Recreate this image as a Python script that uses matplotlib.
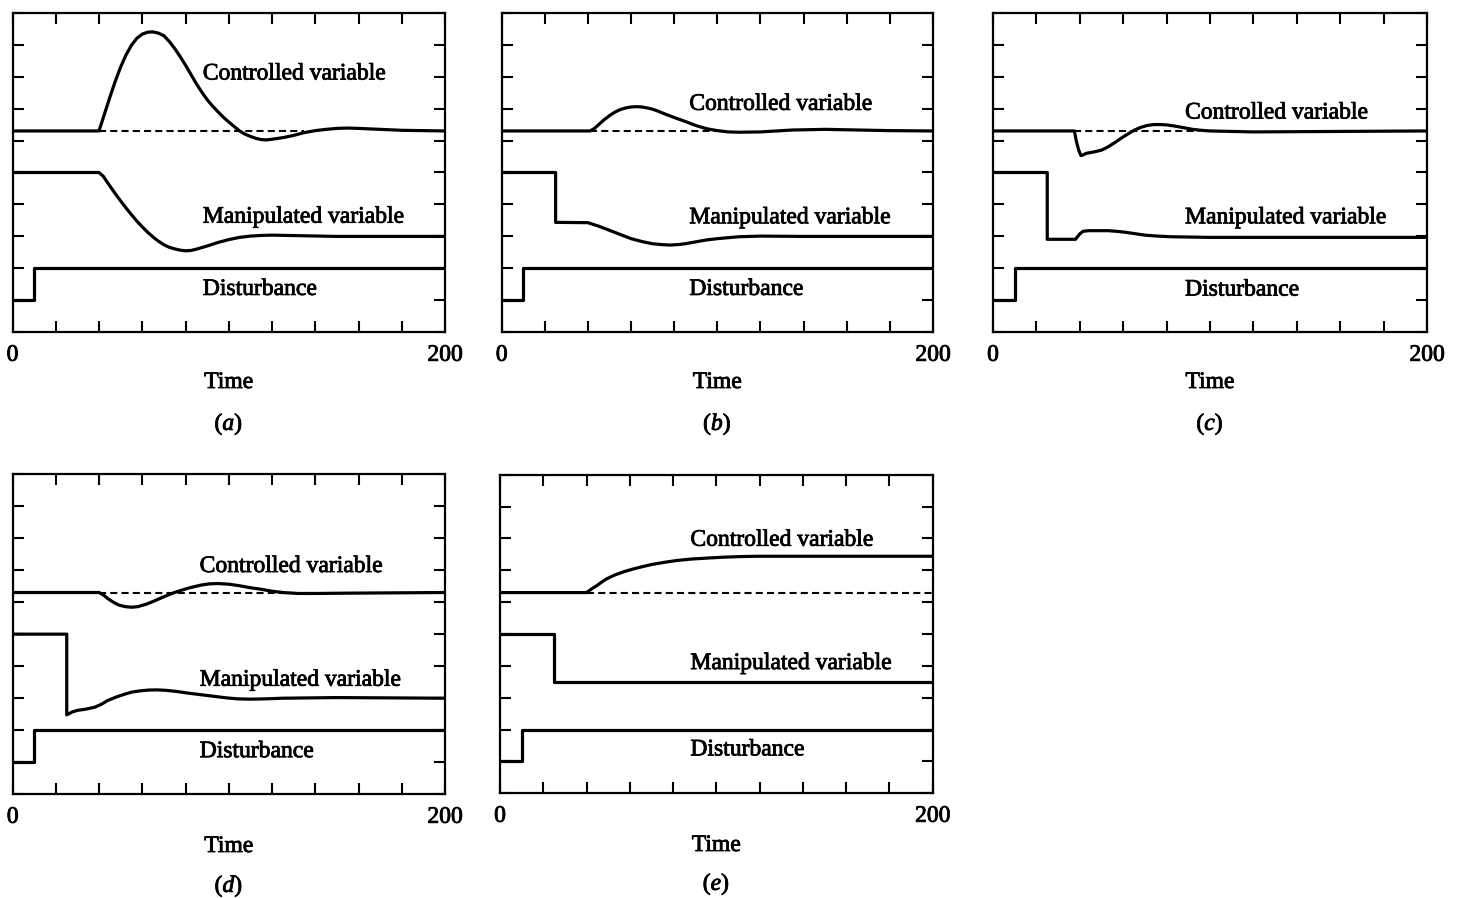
import matplotlib.pyplot as plt
import matplotlib.patheffects as pe

plt.rcParams['font.family'] = 'Liberation Serif'
plt.rcParams['mathtext.fontset'] = 'custom'
plt.rcParams['mathtext.rm'] = 'Liberation Serif'
plt.rcParams['mathtext.it'] = 'Liberation Serif:italic'

panels = ['a', 'b', 'c', 'd', 'e']
setpoint = 6.3

# disturbance: same step in every panel
dist_t = [0, 10, 10, 200]
dist_y = [1.0, 1.0, 2.0, 2.0]

# (a)
ctrl_a_t = [0, 40, 42, 45, 47.5, 50, 52.5, 55, 57.5, 60, 62.5, 65, 67.5, 70, 72.5, 75, 77.5, 80, 82.5, 85,
            87.5, 90, 92.5, 95, 97.5, 100, 102.5, 105, 107.5, 110, 112.5, 115, 117.5, 120, 125, 130, 135,
            140, 145, 150, 155, 160, 170, 180, 200]
ctrl_a_y = [6.3, 6.3, 6.72, 7.35, 7.85, 8.3, 8.68, 8.98, 9.2, 9.33, 9.39, 9.4, 9.36, 9.28, 9.1, 8.88, 8.63, 8.36, 8.07, 7.78,
            7.52, 7.28, 7.08, 6.9, 6.73, 6.58, 6.44, 6.3, 6.2, 6.13, 6.07, 6.03, 6.02, 6.04, 6.09, 6.16, 6.25,
            6.31, 6.35, 6.38, 6.39, 6.38, 6.35, 6.32, 6.3]
manip_a_t = [0, 40, 42, 45, 47.5, 50, 52.5, 55, 57.5, 60, 62.5, 65, 67.5, 70, 72.5, 75, 77.5, 80, 82.5, 85,
             90, 95, 100, 105, 110, 115, 120, 135, 150, 200]
manip_a_y = [5.0, 5.0, 4.88, 4.58, 4.34, 4.11, 3.89, 3.68, 3.48, 3.3, 3.13, 2.98, 2.85, 2.74, 2.66, 2.61, 2.57, 2.55, 2.56, 2.6,
             2.7, 2.81, 2.9, 2.97, 3.01, 3.03, 3.04, 3.02, 3.0, 3.0]

# (b)
ctrl_b_t = [0, 41, 43, 45, 47.5, 50, 52.5, 55, 57.5, 60, 62.5, 65, 67.5, 70, 72.5, 75, 80, 85, 90, 95, 100,
            105, 110, 120, 135, 150, 165, 180, 200]
ctrl_b_y = [6.3, 6.3, 6.38, 6.5, 6.65, 6.78, 6.89, 6.97, 7.02, 7.05, 7.06, 7.05, 7.02, 6.98, 6.92, 6.85, 6.72, 6.6, 6.47, 6.37, 6.31,
            6.27, 6.26, 6.27, 6.33, 6.35, 6.33, 6.31, 6.3]
manip_b_t = [0, 25, 25, 40, 45, 50, 55, 60, 65, 70, 74, 78, 82, 85, 90, 95, 100, 110, 120, 140, 200]
manip_b_y = [5.0, 5.0, 3.44, 3.43, 3.32, 3.19, 3.06, 2.93, 2.84, 2.77, 2.745, 2.73, 2.745, 2.77, 2.83, 2.89, 2.93, 2.99, 3.01, 3.0, 3.0]

# (c)
ctrl_c_t = [0, 37.5, 38.5, 39.5, 40.5, 41.5, 43, 47, 50, 53, 56, 59, 62, 65, 68, 71, 74, 77, 80, 84, 88,
            92, 96, 100, 120, 200]
ctrl_c_y = [6.3, 6.3, 5.95, 5.7, 5.53, 5.55, 5.6, 5.65, 5.7, 5.8, 5.93, 6.07, 6.2, 6.32, 6.41, 6.47, 6.5, 6.5, 6.49, 6.45, 6.4,
            6.35, 6.32, 6.3, 6.27, 6.3]
manip_c_t = [0, 25, 25, 38, 40, 41.5, 44, 53, 57, 61, 65, 70, 76, 82, 100, 200]
manip_c_y = [5.0, 5.0, 2.91, 2.91, 3.08, 3.16, 3.18, 3.18, 3.16, 3.13, 3.09, 3.04, 3.01, 2.99, 2.97, 2.97]

# (d)
ctrl_d_t = [0, 40, 42, 44, 46.5, 49, 52, 55, 58, 62, 66, 70, 74, 78, 82, 87, 91, 95, 100, 105, 110,
            115, 120, 125, 132, 140, 155, 200]
ctrl_d_y = [6.3, 6.3, 6.22, 6.11, 6.0, 5.91, 5.86, 5.84, 5.86, 5.94, 6.05, 6.17, 6.28, 6.37, 6.45, 6.53, 6.57, 6.58, 6.56, 6.51, 6.45,
            6.4, 6.34, 6.3, 6.27, 6.27, 6.28, 6.3]
manip_d_t = [0, 25, 25, 27.5, 30, 34, 38, 41, 44, 48, 52, 55, 59, 63, 67, 71, 76, 81, 87, 93, 99,
             104, 110, 117, 125, 150, 200]
manip_d_y = [5.0, 5.0, 2.48, 2.57, 2.62, 2.66, 2.72, 2.81, 2.93, 3.04, 3.13, 3.19, 3.23, 3.255, 3.26, 3.245, 3.21, 3.16, 3.11, 3.06, 3.01,
             2.98, 2.97, 2.98, 3.0, 3.02, 3.0]

# (e)
ctrl_e_t = [0, 40, 42, 45, 47, 49, 53, 57, 61, 65, 70, 76, 82, 88, 95, 103, 111, 119, 200]
ctrl_e_y = [6.3, 6.3, 6.4, 6.53, 6.63, 6.72, 6.85, 6.95, 7.03, 7.1, 7.18, 7.25, 7.31, 7.35, 7.38, 7.41, 7.43, 7.44, 7.44]
manip_e_t = [0, 25, 25, 200]
manip_e_y = [5.0, 5.0, 3.5, 3.5]

ctrl_t = [ctrl_a_t, ctrl_b_t, ctrl_c_t, ctrl_d_t, ctrl_e_t]
ctrl_y = [ctrl_a_y, ctrl_b_y, ctrl_c_y, ctrl_d_y, ctrl_e_y]
manip_t = [manip_a_t, manip_b_t, manip_c_t, manip_d_t, manip_e_t]
manip_y = [manip_a_y, manip_b_y, manip_c_y, manip_d_y, manip_e_y]

# dashed setpoint segment (where it shows)
dash_start = [40, 41, 37.5, 40, 40]
dash_end = [135, 100, 95, 130, 200]

# label anchors (data units)
label_x = [88, 87, 88.5, 86.5, 88]
ctrl_label_y = [7.91, 6.96, 6.69, 6.94, 7.77]
manip_label_y = [3.43, 3.41, 3.41, 3.39, 3.90]
dist_label_y = [1.17, 1.17, 1.15, 1.16, 1.19]

# layout in pixels: left, top, right, bottom
W, H = 1457, 898
boxes = [(12.5, 12.7, 445, 332.3), (501.7, 12.7, 933, 332.3), (993, 12.7, 1427, 332.3),
         (12.7, 474, 445, 794.3), (500, 474.7, 932.7, 793.3)]
time_base = [388, 388, 388, 852, 851]
tag_base = [430, 430, 430, 892, 890]

fs = 17
heavy = [pe.withStroke(linewidth=0.6, foreground='k')]
fig = plt.figure(figsize=(W / 100, H / 100), dpi=100)

for i, p in enumerate(panels):
    l, t, r, b = boxes[i]
    ax = fig.add_axes([l / W, 1 - b / H, (r - l) / W, (b - t) / H])

    ax.plot([dash_start[i], dash_end[i]], [setpoint, setpoint], color='k', lw=1.5,
            linestyle=(0, (3.4, 2.0)), zorder=2)
    ax.plot(ctrl_t[i], ctrl_y[i], color='k', lw=2.3, zorder=3, solid_joinstyle='round')
    ax.plot(manip_t[i], manip_y[i], color='k', lw=2.3, zorder=3, solid_joinstyle='round')
    ax.plot(dist_t, dist_y, color='k', lw=2.3, zorder=3)

    ax.text(label_x[i], ctrl_label_y[i], 'Controlled variable', fontsize=fs, va='baseline', path_effects=heavy)
    ax.text(label_x[i], manip_label_y[i], 'Manipulated variable', fontsize=fs, va='baseline', path_effects=heavy)
    ax.text(label_x[i], dist_label_y[i], 'Disturbance', fontsize=fs, va='baseline', path_effects=heavy)

    ax.set_xlim(0, 200)
    ax.set_ylim(0, 10)
    ax.set_xticks(range(0, 201, 20))
    ax.set_xticklabels(['0'] + [''] * 9 + ['200'])
    ax.set_yticks(range(0, 11))
    ax.tick_params(direction='in', length=8, width=1.5, top=True, right=True,
                   labelleft=False, labelsize=fs, pad=9)
    for lab in ax.get_xticklabels():
        lab.set_path_effects(heavy)
    for s in ax.spines.values():
        s.set_linewidth(1.6)

    cx = (l + r) / 2 / W
    fig.text(cx, 1 - time_base[i] / H, 'Time', fontsize=fs, ha='center', va='baseline', path_effects=heavy)
    fig.text(cx, 1 - tag_base[i] / H, '($\\mathit{' + p + '}$)', fontsize=fs,
             ha='center', va='baseline', path_effects=heavy)

fig.savefig('out.png', dpi=100)
